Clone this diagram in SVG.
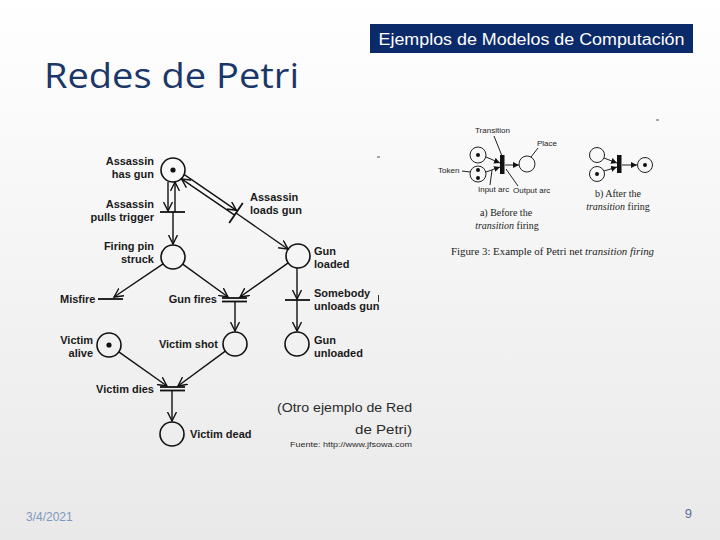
<svg xmlns="http://www.w3.org/2000/svg" width="720" height="540" viewBox="0 0 720 540">
<defs>
<linearGradient id="bg" x1="0" y1="0" x2="0" y2="1">
<stop offset="0" stop-color="#ffffff"/>
<stop offset="1" stop-color="#e9e9e9"/>
</linearGradient>
<marker id="ar" markerUnits="userSpaceOnUse" markerWidth="12" markerHeight="12" refX="9" refY="5" orient="auto">
<path d="M0,0.5 L9,5 L0,9.5" fill="none" stroke="#111" stroke-width="1.4"/>
</marker>
<marker id="as" markerUnits="userSpaceOnUse" markerWidth="8" markerHeight="8" refX="6" refY="3" orient="auto">
<path d="M0,0 L6,3 L0,6 Z" fill="#111"/>
</marker>
<style>
.pl{fill:none;stroke:#111;stroke-width:1.6}
.tr{stroke:#111;stroke-width:1.8}
.arc{stroke:#111;stroke-width:1.4;fill:none;marker-end:url(#ar)}
.tok{fill:#111}
.lb{font-family:"Liberation Sans",Arial,sans-serif;font-weight:bold;font-size:11px;fill:#1a1a1a}
.r{text-anchor:end}
.sp{stroke:#222;stroke-width:1;fill:none}
.sa{stroke:#222;stroke-width:1;fill:none;marker-end:url(#as)}
.sl{font-family:"Liberation Sans",Arial,sans-serif;font-size:8px;fill:#222}
.sf{font-family:"Liberation Serif","Times New Roman",serif;font-size:10px;fill:#222}
</style>
</defs>
<rect width="720" height="540" fill="url(#bg)"/>

<g id="title-box">
<rect x="370" y="24" width="323" height="29" fill="#0b2a6a"/>
<text x="531.5" y="45" text-anchor="middle" font-family="'Liberation Sans',Arial,sans-serif" font-size="16" fill="#ffffff" textLength="306" lengthAdjust="spacingAndGlyphs">Ejemplos de Modelos de Computación</text>
</g>
<text id="heading" x="44" y="88" font-family="'Open Sans','Liberation Sans',sans-serif" font-size="35" fill="#1b3668" textLength="255" lengthAdjust="spacingAndGlyphs">Redes de Petri</text>

<g id="connectors">
<line class="arc" x1="168" y1="182" x2="168" y2="211"/>
<line class="arc" x1="175" y1="212" x2="175" y2="182"/>
<line class="arc" x1="173" y1="212" x2="173" y2="244"/>
<line class="arc" x1="184.3" y1="174.7" x2="236.4" y2="210.3"/>
<line class="arc" x1="234.6" y1="215.1" x2="181.5" y2="178.9"/>
<line class="arc" x1="236" y1="213" x2="288.1" y2="249.2"/>
<line class="arc" x1="163.1" y1="263.8" x2="114" y2="297"/>
<line class="arc" x1="182.7" y1="264.1" x2="228" y2="297"/>
<line class="arc" x1="288.2" y1="262.9" x2="240" y2="297"/>
<line class="arc" x1="297" y1="268" x2="297" y2="299"/>
<line class="arc" x1="297" y1="300" x2="297" y2="331"/>
<line class="arc" x1="235" y1="301" x2="235" y2="331"/>
<line class="arc" x1="118.8" y1="351.9" x2="167" y2="386"/>
<line class="arc" x1="225.3" y1="351.1" x2="178" y2="386"/>
<line class="arc" x1="172" y1="390" x2="172" y2="421"/>
</g>

<g id="assassin-has-gun"><circle class="pl" cx="173" cy="170" r="12"/><circle class="tok" cx="173" cy="170" r="2.6"/>
<text class="lb r" x="154" y="165">Assassin</text><text class="lb r" x="154" y="178">has gun</text></g>
<g id="assassin-pulls-trigger"><line class="tr" x1="160" y1="212" x2="185" y2="212"/>
<text class="lb r" x="154" y="208">Assassin</text><text class="lb r" x="154" y="221">pulls trigger</text></g>
<g id="assassin-loads-gun"><line class="tr" x1="229.2" y1="222.9" x2="242.8" y2="203.1"/>
<text class="lb" x="250" y="201">Assassin</text><text class="lb" x="250" y="214">loads gun</text></g>
<g id="firing-pin-struck"><circle class="pl" cx="173" cy="257" r="12"/>
<text class="lb r" x="154" y="250">Firing pin</text><text class="lb r" x="154" y="263">struck</text></g>
<g id="gun-loaded"><circle class="pl" cx="298" cy="256" r="12"/>
<text class="lb" x="314" y="255">Gun</text><text class="lb" x="314" y="268">loaded</text></g>
<g id="misfire"><line class="tr" x1="98" y1="299" x2="123" y2="299"/>
<text class="lb" x="60" y="303">Misfire</text></g>
<g id="gun-fires"><line class="tr" x1="222" y1="298" x2="247" y2="298" stroke-width="1.4"/><line class="tr" x1="222" y1="301.5" x2="247" y2="301.5" stroke-width="1.4"/>
<text class="lb r" x="217" y="303">Gun fires</text></g>
<g id="somebody-unloads-gun"><line class="tr" x1="285" y1="300" x2="310" y2="300"/>
<text class="lb" x="314" y="297">Somebody</text><text class="lb" x="314" y="310">unloads gun</text>
<line x1="378.5" y1="295" x2="378.5" y2="302" stroke="#333" stroke-width="1"/></g>
<g id="victim-alive"><circle class="pl" cx="109" cy="345" r="12"/><circle class="tok" cx="109" cy="345" r="2.6"/>
<text class="lb r" x="93" y="344">Victim</text><text class="lb r" x="93" y="357">alive</text></g>
<g id="victim-shot"><circle class="pl" cx="235" cy="344" r="12"/>
<text class="lb r" x="218" y="348">Victim shot</text></g>
<g id="gun-unloaded"><circle class="pl" cx="297" cy="344" r="12"/>
<text class="lb" x="314" y="344">Gun</text><text class="lb" x="314" y="357">unloaded</text></g>
<g id="victim-dies"><line class="tr" x1="160" y1="387" x2="185" y2="387" stroke-width="1.4"/><line class="tr" x1="160" y1="390.5" x2="185" y2="390.5" stroke-width="1.4"/>
<text class="lb r" x="154" y="393">Victim dies</text></g>
<g id="victim-dead"><circle class="pl" cx="172" cy="434" r="12"/>
<text class="lb" x="190" y="438">Victim dead</text></g>

<line x1="377" y1="157" x2="380" y2="157" stroke="#555" stroke-width="1"/>
<line x1="656" y1="120" x2="659" y2="120" stroke="#555" stroke-width="1"/>

<g id="caption" font-family="'Liberation Sans',Arial,sans-serif" fill="#2a2a2a" text-anchor="end">
<text x="412" y="412" font-size="12.5" textLength="135" lengthAdjust="spacingAndGlyphs">(Otro ejemplo de Red</text>
<text x="412" y="434" font-size="12.5" textLength="57" lengthAdjust="spacingAndGlyphs">de Petri)</text>
<text x="412" y="447" font-size="8" textLength="122" lengthAdjust="spacingAndGlyphs">Fuente: http://www.jfsowa.com</text>
</g>

<g id="firing-example">
<circle class="sp" cx="478" cy="155" r="8"/><circle class="tok" cx="478" cy="155" r="2"/>
<circle class="sp" cx="478" cy="174" r="8"/><circle class="tok" cx="478" cy="170" r="2"/><circle class="tok" cx="478" cy="178" r="2"/>
<line class="sa" x1="486" y1="157" x2="500" y2="163"/>
<line class="sa" x1="486" y1="172" x2="500" y2="167"/>
<rect x="500" y="155" width="4.5" height="19" fill="#111"/>
<line class="sa" x1="505" y1="165" x2="519" y2="165"/>
<circle class="sp" cx="527" cy="164" r="8"/>
<text class="sl" x="475" y="133" font-size="8">Transition</text>
<line class="sp" x1="494" y1="136" x2="502" y2="156"/>
<text class="sl" x="537" y="146">Place</text>
<line class="sp" x1="538" y1="148" x2="531" y2="157"/>
<text class="sl" x="438" y="173">Token</text>
<line class="sp" x1="462" y1="171" x2="470" y2="172"/>
<text class="sl" x="478" y="192">Input arc</text>
<line class="sp" x1="490" y1="185" x2="492" y2="170"/>
<text class="sl" x="513" y="193">Output arc</text>
<line class="sp" x1="518" y1="186" x2="506" y2="169"/>
<text class="sf" x="506" y="216" text-anchor="middle">a) Before the</text>
<text class="sf" x="507" y="229" text-anchor="middle"><tspan font-style="italic">transition</tspan> firing</text>

<circle class="sp" cx="597" cy="155" r="7.5"/>
<circle class="sp" cx="597" cy="174" r="7.5"/><circle class="tok" cx="597" cy="174" r="2"/>
<line class="sa" x1="604" y1="158" x2="617" y2="163"/>
<line class="sa" x1="604" y1="171" x2="617" y2="167"/>
<rect x="617" y="155" width="4.5" height="18" fill="#111"/>
<line class="sa" x1="622" y1="165" x2="637" y2="165"/>
<circle class="sp" cx="645" cy="165" r="7.5"/><circle class="tok" cx="645" cy="165" r="2"/>
<text class="sf" x="618" y="197" text-anchor="middle">b) After the</text>
<text class="sf" x="618" y="210" text-anchor="middle"><tspan font-style="italic">transition</tspan> firing</text>

<text class="sf" x="451" y="255" textLength="203" lengthAdjust="spacingAndGlyphs">Figure 3: Example of Petri net <tspan font-style="italic">transition firing</tspan></text>
</g>

<text id="date" x="26" y="521" font-family="'Liberation Sans',Arial,sans-serif" font-size="12" fill="#8097c0">3/4/2021</text>
<text id="page" x="692" y="518" text-anchor="end" font-family="'Liberation Sans',Arial,sans-serif" font-size="13" fill="#5a6e99">9</text>
</svg>
